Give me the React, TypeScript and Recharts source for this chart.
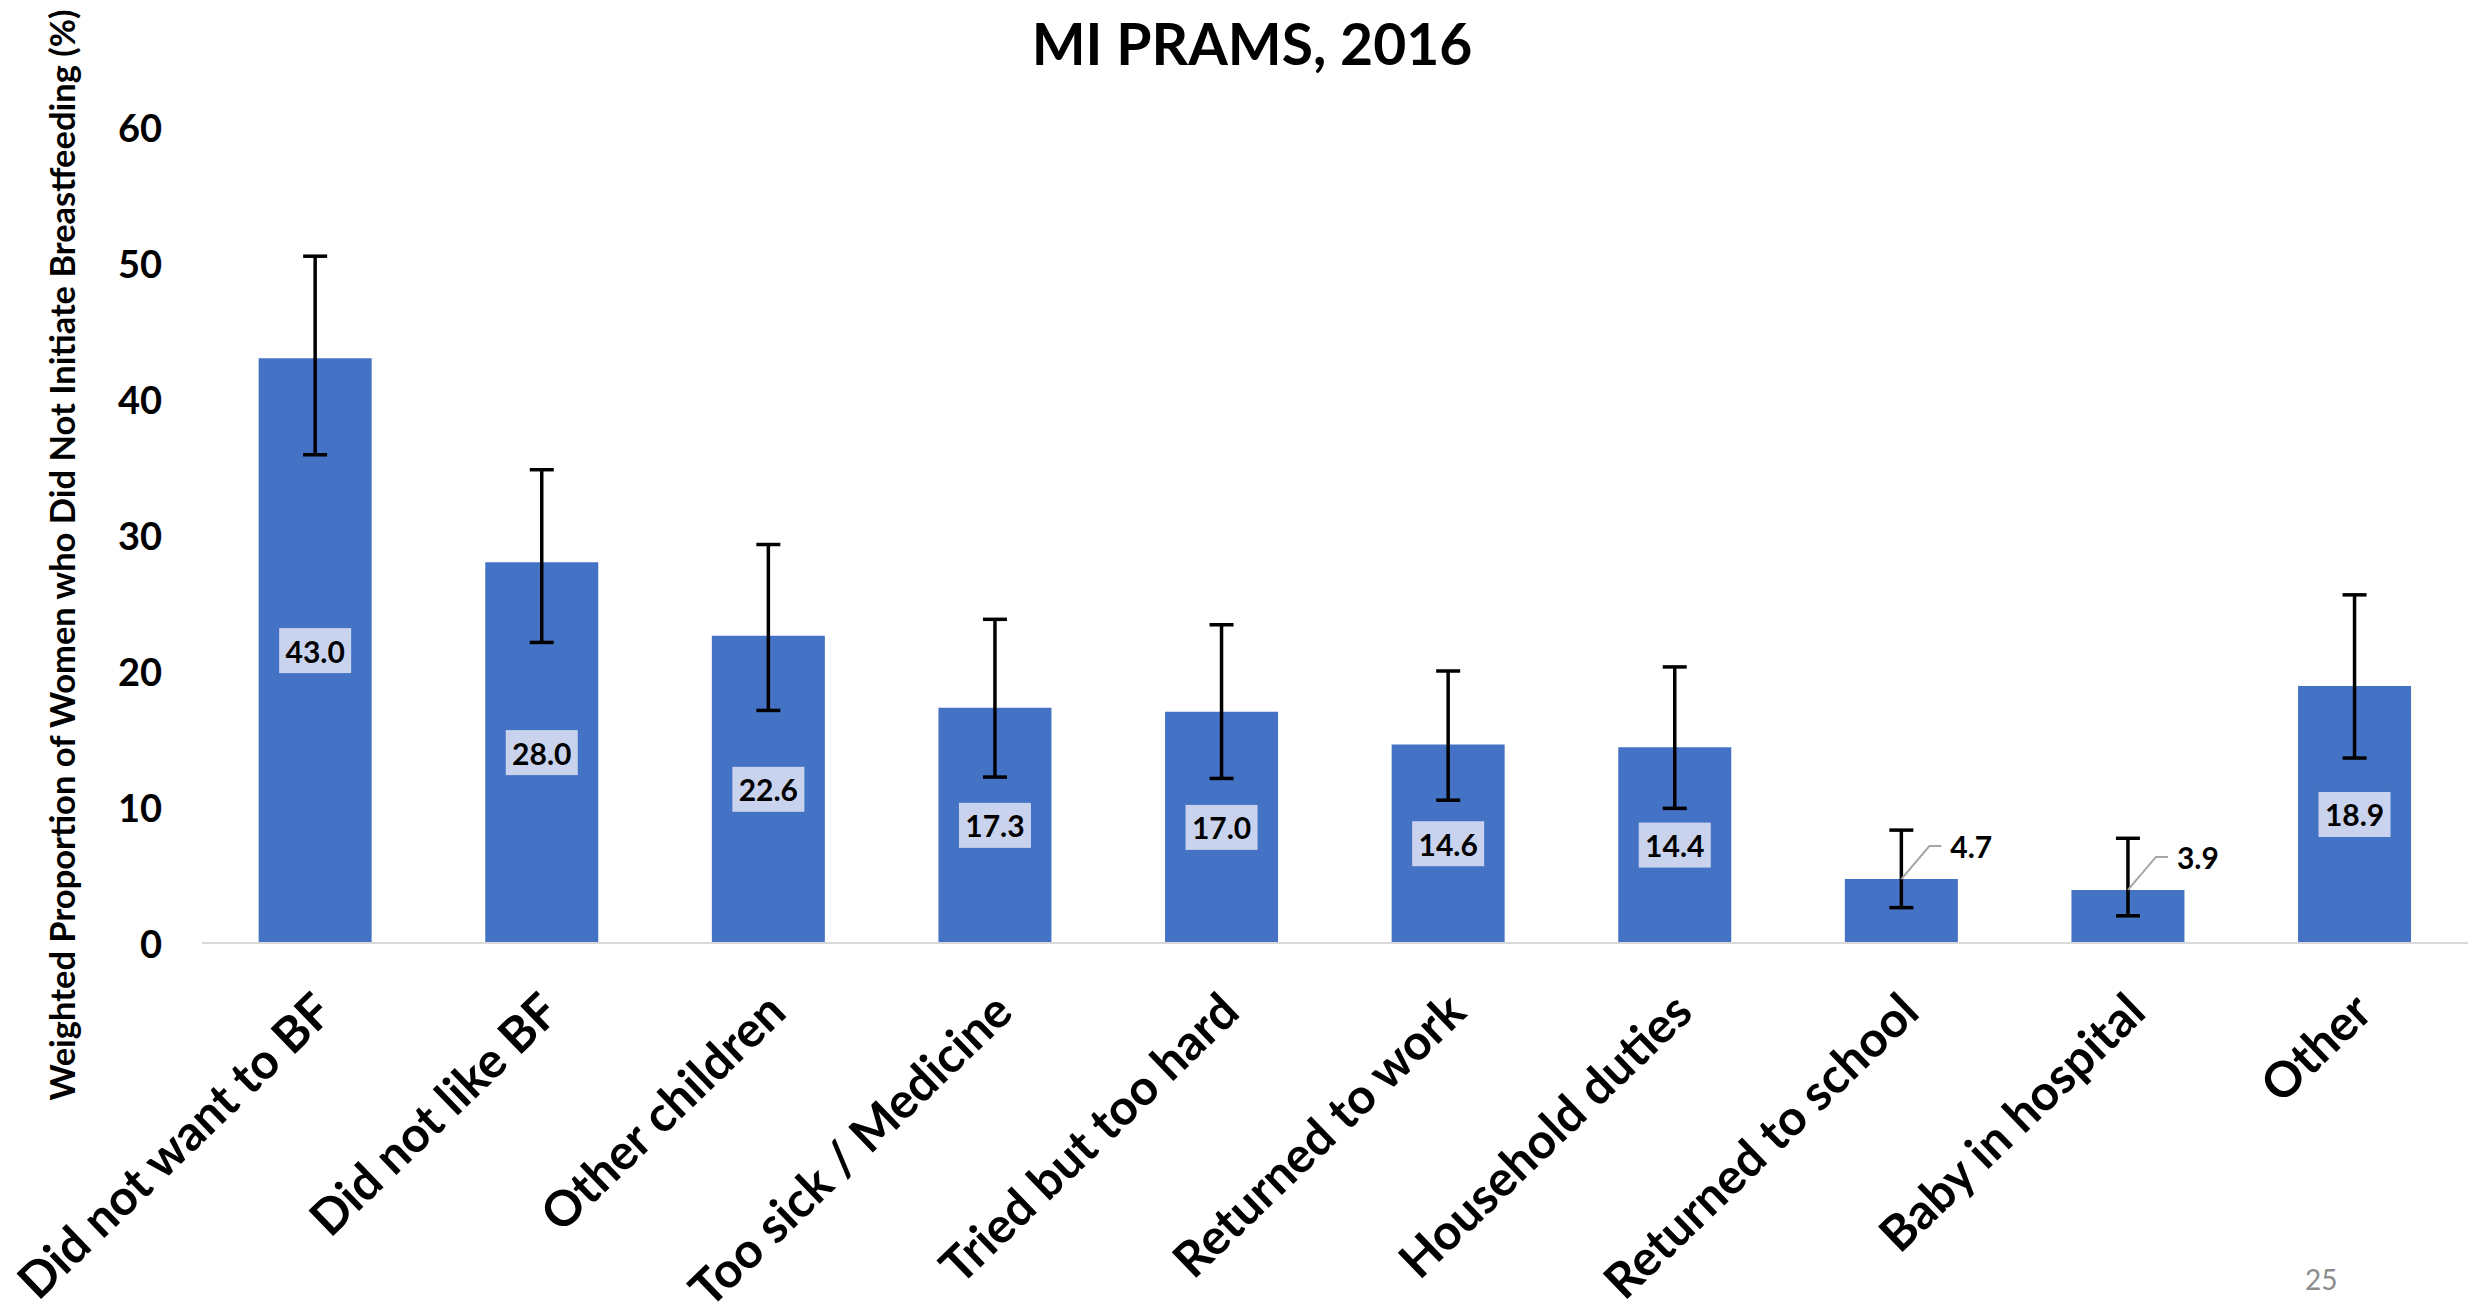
import { BarChart, Bar, XAxis, YAxis, ErrorBar, LabelList } from "recharts";

const categories = [
  "Did not want to BF",
  "Did not like BF",
  "Other children",
  "Too sick / Medicine",
  "Tried but too hard",
  "Returned to work",
  "Household duties",
  "Returned to school",
  "Baby in hospital",
  "Other",
];
const values = [43.0, 28.0, 22.6, 17.3, 17.0, 14.6, 14.4, 4.7, 3.9, 18.9];
const ciLower = [35.9, 22.1, 17.1, 12.2, 12.1, 10.5, 9.9, 2.6, 2.0, 13.6];
const ciUpper = [50.5, 34.8, 29.3, 23.8, 23.4, 20.0, 20.3, 8.3, 7.7, 25.6];
const yTicks = [0, 10, 20, 30, 40, 50, 60];

const data = categories.map((name, i) => ({
  name,
  value: values[i],
  err: [values[i] - ciLower[i], ciUpper[i] - values[i]],
}));

const FONT = "Lato, 'Open Sans', sans-serif";

const XTick = (props: any) => {
  const { x, y, payload } = props;
  const ax = x + 20;
  const ay = y + 72;
  return (
    <text
      x={ax}
      y={ay}
      textAnchor="end"
      transform={`rotate(-44, ${ax}, ${ay})`}
      fontFamily={FONT}
      fontWeight={700}
      fontSize={49}
      fill="#000"
    >
      {payload.value}
    </text>
  );
};

const YTick = (props: any) => {
  const { x, y, payload } = props;
  return (
    <text x={x} y={y} textAnchor="end" dominantBaseline="central" fontFamily={FONT} fontWeight={700} fontSize={38} fill="#000">
      {payload.value}
    </text>
  );
};

const ValueLabel = (props: any) => {
  const { x, y, width, height, value } = props;
  const cx = x + width / 2;
  const txt = Number(value).toFixed(1);
  if (value < 10) {
    const ex = cx + 28;
    const ey = y - 33;
    return (
      <g>
        <polyline points={`${cx},${y} ${ex},${ey} ${ex + 12},${ey}`} fill="none" stroke="#A6A6A6" strokeWidth={2} />
        <text x={ex + 21} y={ey} dominantBaseline="central" fontFamily={FONT} fontWeight={700} fontSize={30} fill="#000">
          {txt}
        </text>
      </g>
    );
  }
  const cy = y + height / 2;
  return (
    <g>
      <rect x={cx - 36} y={cy - 22.5} width={72} height={45} fill="#C9D3ED" />
      <text x={cx} y={cy} textAnchor="middle" dominantBaseline="central" fontFamily={FONT} fontWeight={700} fontSize={30} fill="#000">
        {txt}
      </text>
    </g>
  );
};

const YLabel = (props: any) => {
  const { viewBox } = props;
  const lx = viewBox.x - 11;
  const ly = viewBox.y + viewBox.height / 2 + 20;
  return (
    <text
      x={lx}
      y={ly}
      textAnchor="middle"
      dominantBaseline="central"
      transform={`rotate(-90, ${lx}, ${ly})`}
      fontFamily={FONT}
      fontWeight={700}
      fontSize={34.5}
      fill="#000"
    >
      Weighted Proportion of Women who Did Not Initiate Breastfeeding (%)
    </text>
  );
};

export default function App() {
  return (
    <div style={{ position: "absolute", left: 0, top: 0, width: 2484, height: 1314, background: "#fff" }}>
      <div
        style={{
          position: "absolute",
          left: 0,
          width: 2484,
          top: 9,
          textAlign: "center",
          fontFamily: FONT,
          fontWeight: 700,
          fontSize: 57,
          lineHeight: "68px",
          paddingLeft: 20,
          boxSizing: "border-box",
        }}
      >
        MI PRAMS, 2016
      </div>
      <BarChart
        width={2484}
        height={1314}
        data={data}
        margin={{ top: 127, right: 16, left: 72, bottom: 71 }}
        barCategoryGap="25%"
      >
        <XAxis
          dataKey="name"
          height={300}
          interval={0}
          tickLine={false}
          tickSize={0}
          tickMargin={0}
          axisLine={{ stroke: "#D9D9D9", strokeWidth: 2 }}
          tick={<XTick />}
        />
        <YAxis
          width={130}
          domain={[0, 60]}
          ticks={yTicks}
          axisLine={false}
          tickLine={false}
          tickSize={0}
          tickMargin={40}
          tick={<YTick />}
          label={<YLabel />}
        />
        <Bar dataKey="value" fill="#4472C4" isAnimationActive={false}>
          <ErrorBar dataKey="err" width={12} strokeWidth={3.5} stroke="#000" isAnimationActive={false} />
          <LabelList dataKey="value" content={<ValueLabel />} />
        </Bar>
      </BarChart>
      <div
        style={{
          position: "absolute",
          left: 2305,
          top: 1262,
          fontFamily: FONT,
          fontSize: 28,
          color: "#8C8C8C",
        }}
      >
        25
      </div>
    </div>
  );
}
